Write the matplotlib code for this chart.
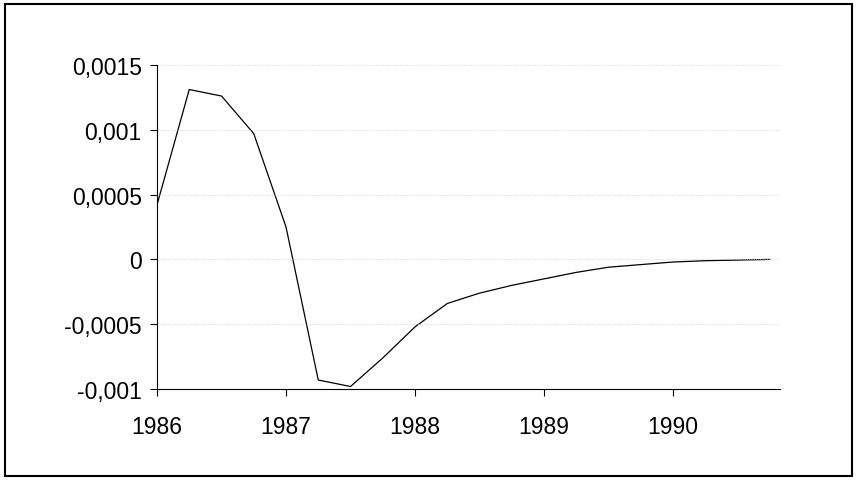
import matplotlib
matplotlib.use("Agg")
import matplotlib.pyplot as plt
from matplotlib.patches import Rectangle

x = [1986.0,1986.25,1986.5,1986.75,1987.0,1987.25,1987.5,1987.75,1988.0,1988.25,1988.5,1988.75,
     1989.0,1989.25,1989.5,1989.75,1990.0,1990.25,1990.5,1990.75]
y = [0.00042,0.00131,0.00126,0.00097,0.00025,-0.00093,-0.00098,-0.00076,-0.00052,-0.00034,-0.00026,-0.0002,
     -0.00015,-0.0001,-0.00006,-0.00004,-0.00002,-0.00001,-0.000005,0.0]
yticks = [-0.001,-0.0005,0,0.0005,0.001,0.0015]
ylabels = ["-0,001","-0,0005","0","0,0005","0,001","0,0015"]
xticks = [1986,1987,1988,1989,1990]

plt.rcParams['font.family'] = ['Liberation Sans','DejaVu Sans']
fig = plt.figure(figsize=(8.56,4.81), dpi=100)
fig.patches.append(Rectangle((0.006,0.008),0.989,0.982,transform=fig.transFigure,fill=False,edgecolor='black',lw=1.5))
ax = fig.add_axes([0.1834,0.189,0.728,0.674])
ax.plot(x,y,color='black',lw=0.9)
ax.set_xlim(1986,1990.83)
ax.set_ylim(-0.001,0.0015)
ax.set_yticks(yticks); ax.set_yticklabels(ylabels)
ax.set_xticks(xticks); ax.set_xticklabels([str(t) for t in xticks])
for t in yticks[1:]:
    ax.axhline(t,color='#cccccc',lw=0.6,ls=':')
for s in ['top','right']:
    ax.spines[s].set_visible(False)
ax.tick_params(labelsize=16.5, length=5, width=0.8)
ax.tick_params(axis='x', pad=14)
ax.tick_params(axis='y', pad=6)
fig.savefig("out.png", dpi=100)
